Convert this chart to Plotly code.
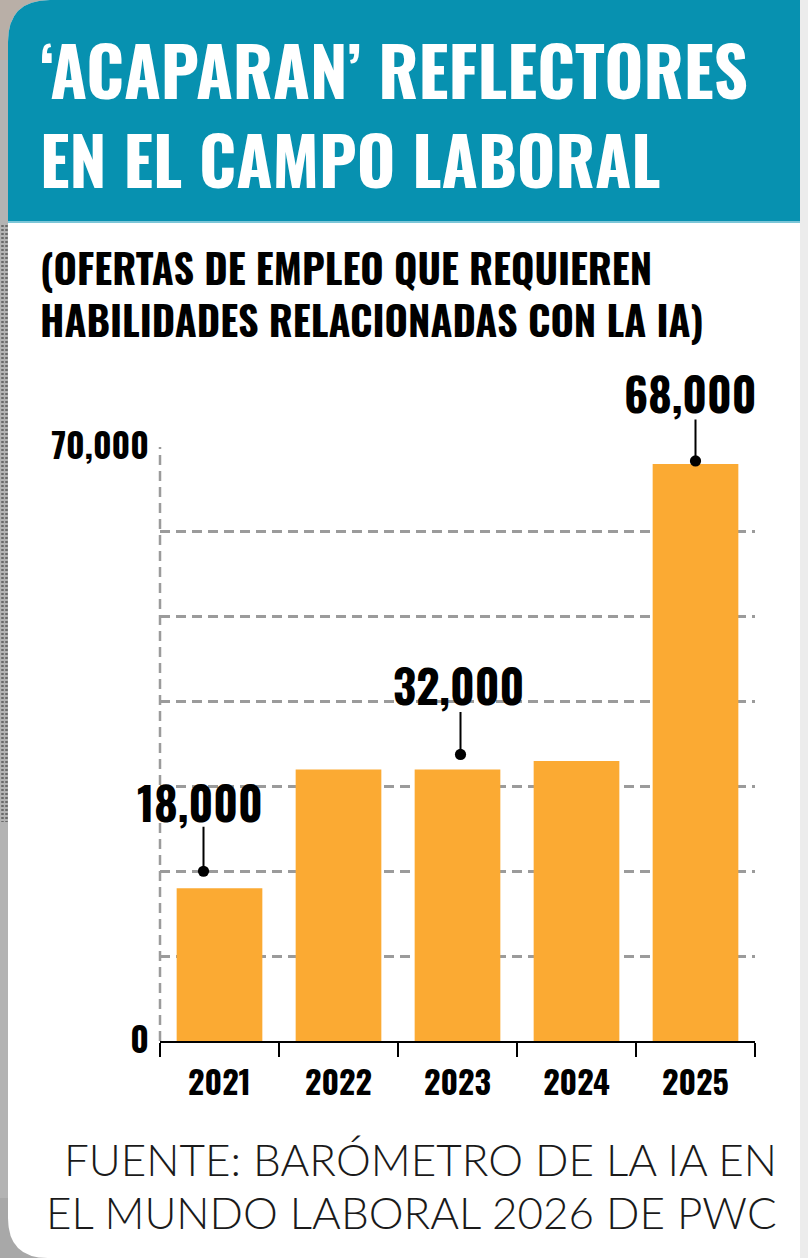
import plotly.graph_objects as go

# ---------------- data ----------------
years = ["2021", "2022", "2023", "2024", "2025"]
values = [18000, 32000, 32000, 33000, 68000]
labelled_years = ["2021", "2023", "2025"]
y_tickvals = [0, 10000, 20000, 30000, 40000, 50000, 60000, 70000]
y_ticktext = ["0", "", "", "", "", "", "", "70,000"]

title_lines = ["‘ACAPARAN’ REFLECTORES", "EN EL CAMPO LABORAL"]
subtitle_lines = ["(OFERTAS DE EMPLEO QUE REQUIEREN", "HABILIDADES RELACIONADAS CON LA IA)"]
source_lines = ["FUENTE: BARÓMETRO DE LA IA EN", "EL MUNDO LABORAL 2026 DE PWC"]

# ---------------- layout geometry ----------------
W, H = 808, 1258
ML, MR, MT, MB = 160, 53, 447, 217
PW, PH = W - ML - MR, H - MT - MB


def PX(px):
    return (px - ML) / PW


def PY(py):
    return (H - MB - py) / PH


COND = "Oswald, 'Bebas Neue', 'Roboto Condensed', sans-serif"
LIGHT = "Lato, Roboto, sans-serif"
TEAL = "#0791b0"
BAR = "#fbaa33"
GRID = "#9b9b9b"

fig = go.Figure()
fig.add_trace(go.Bar(x=years, y=values, marker=dict(color=BAR, line=dict(width=0)),
                     hoverinfo="skip"))

shapes = []
# outer page strips
shapes.append(dict(type="rect", xref="paper", yref="paper", x0=PX(0), x1=PX(9), y0=PY(H), y1=PY(0),
                   fillcolor="#b3b3b3", line=dict(width=0), layer="below"))
for xx in (2.5, 6.5):
    shapes.append(dict(type="line", xref="paper", yref="paper", x0=PX(xx), x1=PX(xx), y0=PY(225), y1=PY(822),
                       line=dict(color="#6a6a6a", width=2.5, dash="2px,2px"), layer="below"))
shapes.append(dict(type="rect", xref="paper", yref="paper", x0=PX(0), x1=PX(60), y0=PY(60), y1=PY(0),
                   fillcolor="#b9afa7", line=dict(width=0), layer="below"))
shapes.append(dict(type="rect", xref="paper", yref="paper", x0=PX(0), x1=PX(60), y0=PY(H), y1=PY(H - 60),
                   fillcolor="#a8a8a8", line=dict(width=0), layer="below"))
shapes.append(dict(type="rect", xref="paper", yref="paper", x0=PX(800), x1=PX(W), y0=PY(H), y1=PY(0),
                   fillcolor="#ececec", line=dict(width=0), layer="below"))
# white card with rounded left corners
R, RB = 42, 40
card = (f"M {PX(8)},{PY(R)} Q {PX(8)},{PY(0)} {PX(8 + R)},{PY(0)} L {PX(800)},{PY(0)} "
        f"L {PX(800)},{PY(H)} L {PX(8 + RB)},{PY(H)} Q {PX(8)},{PY(H)} {PX(8)},{PY(H - RB)} Z")
shapes.append(dict(type="path", xref="paper", yref="paper", path=card, fillcolor="white",
                   line=dict(width=0), layer="below"))
# teal header
head = (f"M {PX(8)},{PY(R)} Q {PX(8)},{PY(0)} {PX(8 + R)},{PY(0)} L {PX(800)},{PY(0)} "
        f"L {PX(800)},{PY(221)} L {PX(8)},{PY(221)} Z")
shapes.append(dict(type="path", xref="paper", yref="paper", path=head, fillcolor=TEAL,
                   line=dict(width=0), layer="below"))
shapes.append(dict(type="line", xref="paper", yref="paper", x0=PX(8), x1=PX(800), y0=PY(222), y1=PY(222),
                   line=dict(color="#7cc6d8", width=2), layer="below"))
# dashed y axis line
shapes.append(dict(type="line", xref="paper", yref="paper", x0=0, x1=0, y0=0, y1=1,
                   line=dict(color=GRID, width=2.5, dash="10px,6px"), layer="below"))

annotations = []
# title
for i, t in enumerate(title_lines):
    annotations.append(dict(xref="paper", yref="paper", x=PX(38), y=PY([68, 158][i]), xanchor="left",
                            yanchor="middle", showarrow=False, text=t,
                            font=dict(family=COND, size=[67, 66][i], color="white", weight=700)))
# subtitle (two lines in one block)
annotations.append(dict(xref="paper", yref="paper", x=PX(38), y=PY(293), xanchor="left",
                        yanchor="middle", align="left", showarrow=False, text="<br>".join(subtitle_lines),
                        font=dict(family=COND, size=40, color="black", weight=700)))
for i, t in enumerate(source_lines):
    annotations.append(dict(xref="paper", yref="paper", x=PX(779), y=PY([1159, 1212][i]), xanchor="right",
                            yanchor="middle", showarrow=False, text=t,
                            font=dict(family=LIGHT, size=44, color="#1a1a1a", weight=300)))

# value call-outs (style offsets per label); category axis -> use category index
callout_style = {
    "2021": dict(tx=-20, ty=87, lx=-16, stand=17, ay=-63),
    "2023": dict(tx=1, ty=85, lx=3, stand=15, ay=-59),
    "2025": dict(tx=-5, ty=71, lx=0, stand=3, ay=-46),
}
for idx, (yr, v) in enumerate(zip(years, values)):
    if yr not in labelled_years:
        continue
    st = callout_style[yr]
    annotations.append(dict(x=idx, y=v, xref="x", yref="y", text="", showarrow=True, ax=0, ay=st["ay"],
                            arrowhead=6, arrowsize=1.4, arrowwidth=2, arrowcolor="black",
                            standoff=st["stand"], xshift=st["lx"]))
    annotations.append(dict(x=idx, y=v, xref="x", yref="y", text=f"{v:,}", showarrow=False,
                            xanchor="center", yanchor="middle", xshift=st["tx"], yshift=st["ty"],
                            font=dict(family=COND, size=45, color="black", weight=700)))

fig.update_layout(
    width=W, height=H,
    margin=dict(l=ML, r=MR, t=MT, b=MB, pad=0),
    paper_bgcolor="#ececec", plot_bgcolor="rgba(0,0,0,0)",
    showlegend=False, bargap=0.28,
    shapes=shapes, annotations=annotations,
    xaxis=dict(type="category", range=[-0.5, len(years) - 0.5], autorange=False,
               showline=True, linecolor="black", linewidth=2,
               ticks="outside", tickson="boundaries", ticklen=14, tickwidth=2, tickcolor="black",
               ticklabelstandoff=14, showgrid=False, zeroline=False,
               tickfont=dict(family=COND, size=32, color="black", weight=700)),
    yaxis=dict(range=[0, 70000], autorange=False, tickvals=y_tickvals, ticktext=y_ticktext,
               showgrid=True, gridcolor=GRID, gridwidth=2.5, griddash="10px,6px",
               zeroline=False, showline=False, ticks="", ticklabelstandoff=10,
               tickfont=dict(family=COND, size=34, color="black", weight=700)),
)
fig.write_html("out.html")
